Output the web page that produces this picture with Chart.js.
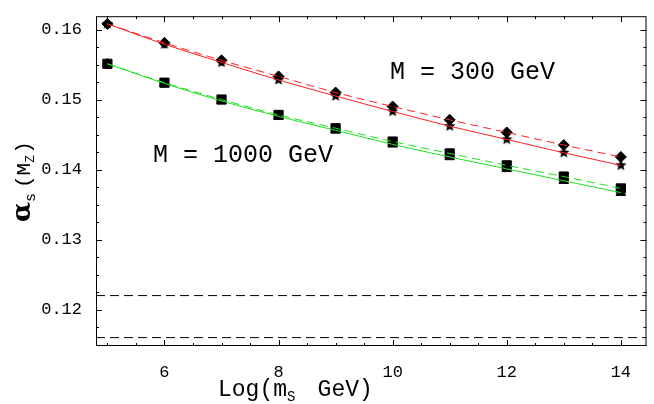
<!doctype html>
<html>
<head>
<script src="https://cdn.jsdelivr.net/npm/chart.js@4"></script>
<style>body{margin:0;background:#fff}#wrap{width:654px;height:404px}</style>
</head>
<body>
<div id="wrap"><canvas id="c"></canvas></div>
<script>
var xs = [5, 6, 7, 8, 9, 10, 11, 12, 13, 14];
var diamonds300 = [0.1608, 0.1581, 0.1556, 0.1533, 0.1510, 0.1490, 0.1471, 0.1453, 0.1435, 0.1418];
var stars300 = [0.1608, 0.1579, 0.1553, 0.1528, 0.1505, 0.1483, 0.1462, 0.1443, 0.1424, 0.1406];
var squares1000 = [0.1551, 0.1524, 0.1500, 0.1478, 0.1459, 0.1440, 0.1423, 0.1406, 0.1390, 0.1373];
var triangles1000 = [0.1551, 0.1523, 0.1498, 0.1476, 0.1456, 0.1436, 0.1418, 0.1401, 0.1384, 0.1367];
var bandLow = 0.116, bandHigh = 0.122;
var yTicks = [0.12, 0.13, 0.14, 0.15, 0.16];
var MONO = '"Liberation Mono", "Courier New", "DejaVu Sans Mono", monospace';

function pts(ys) { return xs.map(function (x, i) { return { x: x, y: ys[i] }; }); }

function starImg(r) {
  var c = document.createElement('canvas');
  c.width = c.height = 2 * r + 2;
  var g = c.getContext('2d');
  g.fillStyle = '#000';
  g.beginPath();
  for (var i = 0; i < 10; i++) {
    var rr = i % 2 ? r * 0.45 : r;
    var a = -Math.PI / 2 + i * Math.PI / 5;
    g.lineTo(r + 1 + rr * Math.cos(a), r + 1 + rr * Math.sin(a));
  }
  g.closePath();
  g.fill();
  return c;
}

function line(data, color, dash) {
  return { type: 'line', data: pts(data), borderColor: color, borderWidth: 1, borderDash: dash,
    pointRadius: 0, fill: false, tension: 0.3 };
}
function marks(data, style, r) {
  return { type: 'scatter', data: pts(data), pointStyle: style, pointRadius: r,
    backgroundColor: '#000', borderColor: '#000', borderWidth: 1 };
}
function hline(v) {
  return { type: 'line', data: [{ x: 4.8, y: v }, { x: 14.45, y: v }], borderColor: '#000',
    borderWidth: 1, borderDash: [9, 5], pointRadius: 0 };
}

var extras = {
  id: 'extras',
  afterDraw: function (ch) {
    var g = ch.ctx, a = ch.chartArea, sx = ch.scales.x, sy = ch.scales.y;
    g.save();
    g.strokeStyle = '#000'; g.lineWidth = 1;
    g.strokeRect(a.left + 0.5, a.top + 0.5, a.right - a.left - 1, a.bottom - a.top - 1);
    for (var v = 5; v <= 14.01; v += 0.5) {
      var px = Math.round(sx.getPixelForValue(v)) + 0.5, len = (v % 2 === 0) ? 6 : 3;
      g.beginPath(); g.moveTo(px, a.bottom); g.lineTo(px, a.bottom - len); g.stroke();
      g.beginPath(); g.moveTo(px, a.top); g.lineTo(px, a.top + len); g.stroke();
    }
    for (var w = 0.115; w <= 0.1615; w += 0.0025) {
      var py = Math.round(sy.getPixelForValue(w)) + 0.5;
      var major = Math.abs(w * 100 - Math.round(w * 100)) < 0.01;
      var l2 = major ? 6 : 3;
      g.beginPath(); g.moveTo(a.left, py); g.lineTo(a.left + l2, py); g.stroke();
      g.beginPath(); g.moveTo(a.right, py); g.lineTo(a.right - l2, py); g.stroke();
    }
    g.fillStyle = '#000';
    g.font = '25px ' + MONO;
    g.textBaseline = 'middle';
    g.fillText('M = 300 GeV', 390, 72);
    g.fillText('M = 1000 GeV', 153, 155);
    g.textBaseline = 'alphabetic';
    g.font = '23px ' + MONO;
    var x0 = 218;
    g.fillText('Log(m', x0, 396);
    var w1 = g.measureText('Log(m').width;
    g.font = '14px ' + MONO;
    g.fillText('S', x0 + w1, 401);
    var w2 = g.measureText('S ').width;
    g.font = '23px ' + MONO;
    g.fillText(' GeV)', x0 + w1 + w2, 396);
    g.translate(30, 222);
    g.rotate(-Math.PI / 2);
    g.font = 'bold 26px "DejaVu Serif"';
    g.fillText('\u03b1', 0, 0);
    var wa = g.measureText('\u03b1').width;
    g.font = '15px ' + MONO;
    g.fillText('s', wa, 5);
    g.font = '21px ' + MONO;
    g.fillText('(M', wa + 14, 0);
    var wm = g.measureText('(M').width;
    g.font = '13px ' + MONO;
    g.fillText('Z', wa + 14 + wm, 4);
    g.font = '21px ' + MONO;
    g.fillText(')', wa + 14 + wm + 9, 0);
    g.restore();
  }
};

new Chart(document.getElementById('c'), {
  data: {
    datasets: [
      line(stars300, '#ff2020', []),
      line(diamonds300, '#ff2020', [8, 5]),
      line(triangles1000, '#20e020', []),
      line(squares1000, '#20e020', [8, 5]),
      hline(bandHigh), hline(bandLow),
      marks(triangles1000, 'triangle', 5.5),
      marks(squares1000, 'rect', 6.5),
      marks(diamonds300, 'rectRot', 5.5),
      marks(stars300, starImg(6), 6)
    ]
  },
  options: {
    responsive: true, maintainAspectRatio: false, animation: false,
    layout: { padding: { top: 1, right: 4, left: 0, bottom: 0 } },
    plugins: { legend: { display: false }, tooltip: { enabled: false } },
    scales: {
      x: { type: 'linear', min: 4.8, max: 14.45,
        afterBuildTicks: function (s) { s.ticks = [6, 8, 10, 12, 14].map(function (v) { return { value: v }; }); },
        afterFit: function (s) { s.height = 58; },
        grid: { display: false }, border: { display: false },
        ticks: { color: '#000', font: { family: MONO, size: 17 }, padding: 8 } },
      y: { type: 'linear', min: 0.1148, max: 0.1619,
        afterBuildTicks: function (s) { s.ticks = yTicks.map(function (v) { return { value: v }; }); },
        afterFit: function (s) { s.width = 96; },
        grid: { display: false }, border: { display: false },
        ticks: { color: '#000', font: { family: MONO, size: 17 }, padding: 6,
          callback: function (v) { return v.toFixed(2); } } }
    }
  },
  plugins: [extras]
});
</script>
</body>
</html>
